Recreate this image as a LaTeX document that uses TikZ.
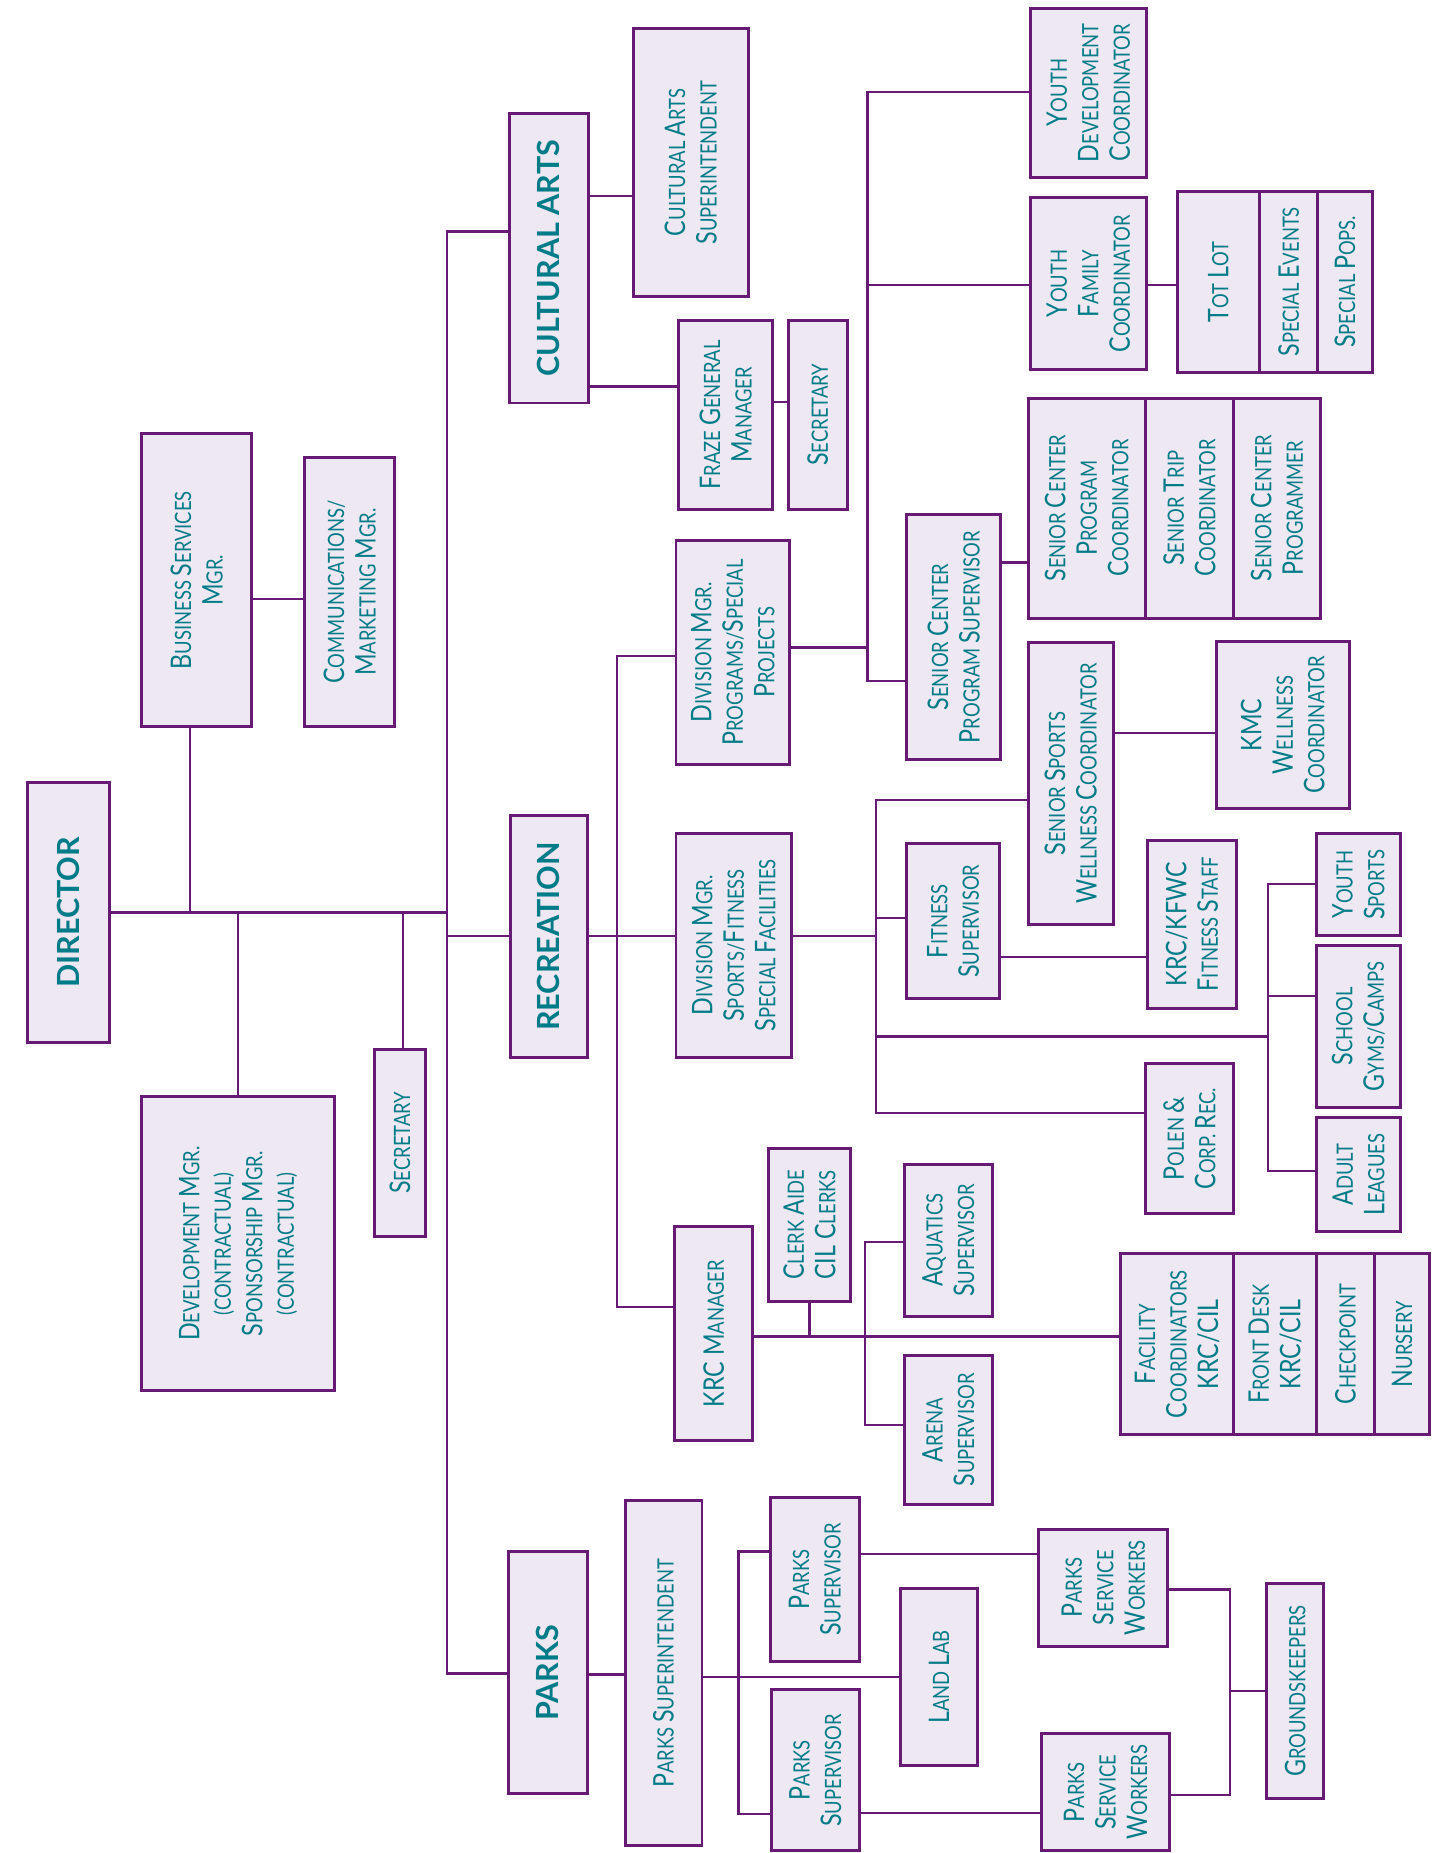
\documentclass[tikz,border=0pt]{standalone}
\usepackage{fontspec}
\setmainfont{Lato}[FakeStretch=0.82]
\newfontfamily\hdfont{Lato}
\usepackage{tikz}
\usetikzlibrary{fit}

\definecolor{orgline}{RGB}{102,26,116}
\definecolor{orgfill}{RGB}{238,232,242}
\definecolor{orgtext}{RGB}{0,124,136}

% big initial of a small-caps word
\newcommand\B[1]{{\fontsize{14.4}{16}\selectfont #1}}
% horizontal link between two boxes at a given height
\newcommand\hl[3]{\draw[link] (#1.east |- 0,#3) -- (#2.west |- 0,#3);}

\begin{document}
\begin{tikzpicture}[x=0.6pt,y=-0.6pt]
		\tikzstyle{orgbox}=[rectangle,draw=orgline,fill=orgfill,line width=1.5pt,inner sep=0pt];
		\tikzstyle{orgtxt}=[rotate=90,align=center,inner sep=0pt,text=orgtext,
			font=\fontsize{11.4}{16}\selectfont];
		\tikzstyle{headtxt}=[orgtxt,font=\hdfont\fontsize{15.5}{17}\selectfont\bfseries];
		\tikzstyle{link}=[draw=orgline,line width=1.2pt];
		\path[use as bounding box,fill=white](0,0)rectangle(1225,1568);

		% director and staff
		\node[orgbox,fit={(23,662)(93,882)},label={[headtxt]center:DIRECTOR}](dir){};
		\node[orgbox,fit={(120,367)(213,615)},label={[orgtxt]center:{\B{B}USINESS \B{S}ERVICES\\\B{M}GR.}}](bsm){};
		\node[orgbox,fit={(258,387)(334,615)},label={[orgtxt]center:{\B{C}OMMUNICATIONS/\\\B{M}ARKETING \B{M}GR.}}](cmm){};
		\node[orgbox,fit={(120,928)(283,1177)},label={[orgtxt]center:{\B{D}EVELOPMENT \B{M}GR.\\(CONTRACTUAL)\\\B{S}PONSORSHIP \B{M}GR.\\(CONTRACTUAL)}}](dev){};
		\node[orgbox,fit={(317,888)(360,1046)},label={[orgtxt]center:{\B{S}ECRETARY}}](sec1){};
		\coordinate(spT)at(378,196);
		\coordinate(spB)at(378,1416);
		\coordinate(jb)at(161,772);

		% cultural arts
		\node[orgbox,fit={(431,96)(498,341)},label={[headtxt]center:CULTURAL ARTS}](ca){};
		\node[orgbox,fit={(536,24)(633,251)},label={[orgtxt]center:{\B{C}ULTURAL \B{A}RTS\\\B{S}UPERINTENDENT}}](cas){};
		\node[orgbox,fit={(574,271)(654,431)},label={[orgtxt]center:{\B{F}RAZE \B{G}ENERAL\\\B{M}ANAGER}}](fgm){};
		\node[orgbox,fit={(667,271)(717,431)},label={[orgtxt]center:{\B{S}ECRETARY}}](sec2){};

		% recreation
		\node[orgbox,fit={(432,690)(497,895)},label={[headtxt]center:RECREATION}](rec){};
		\node[orgbox,fit={(572,457)(668,647)},label={[orgtxt]center:{\B{D}IVISION \B{M}GR.\\\B{P}ROGRAMS/\B{S}PECIAL\\\B{P}ROJECTS}}](dmp){};
		\node[orgbox,fit={(572,705)(670,895)},label={[orgtxt]center:{\B{D}IVISION \B{M}GR.\\\B{S}PORTS/\B{F}ITNESS\\\B{S}PECIAL \B{F}ACILITIES}}](dms){};
		\node[orgbox,fit={(571,1038)(637,1219)},label={[orgtxt]center:{\B{KRC M}ANAGER}}](krc){};

		\node[orgbox,fit={(872,7)(970,150)},label={[orgtxt]center:{\B{Y}OUTH\\\B{D}EVELOPMENT\\\B{C}OORDINATOR}}](ydc){};
		\node[orgbox,fit={(872,167)(970,313)},label={[orgtxt]center:{\B{Y}OUTH\\\B{F}AMILY\\\B{C}OORDINATOR}}](yfc){};
		\node[orgbox,fit={(996,162)(1066,315)},label={[orgtxt]center:{\B{T}OT \B{L}OT}}](tot){};
		\node[orgbox,fit={(1066,162)(1115,315)},label={[orgtxt]center:{\B{S}PECIAL \B{E}VENTS}}](spe){};
		\node[orgbox,fit={(1115,162)(1161,315)},label={[orgtxt]center:{\B{S}PECIAL \B{P}OPS.}}](spp){};
		\node[orgbox,fit={(767,435)(847,643)},label={[orgtxt]center:{\B{S}ENIOR \B{C}ENTER\\\B{P}ROGRAM \B{S}UPERVISOR}}](scs){};
		\node[orgbox,fit={(870,337)(969,523)},label={[orgtxt]center:{\B{S}ENIOR \B{C}ENTER\\\B{P}ROGRAM\\\B{C}OORDINATOR}}](scc){};
		\node[orgbox,fit={(969,337)(1044,523)},label={[orgtxt]center:{\B{S}ENIOR \B{T}RIP\\\B{C}OORDINATOR}}](stc){};
		\node[orgbox,fit={(1044,337)(1117,523)},label={[orgtxt]center:{\B{S}ENIOR \B{C}ENTER\\\B{P}ROGRAMMER}}](scp){};

		\node[orgbox,fit={(870,544)(942,782)},label={[orgtxt]center:{\B{S}ENIOR \B{S}PORTS\\\B{W}ELLNESS \B{C}OORDINATOR}}](ssw){};
		\node[orgbox,fit={(1029,543)(1142,684)},label={[orgtxt]center:{\B{KMC}\\\B{W}ELLNESS\\\B{C}OORDINATOR}}](kmc){};
		\node[orgbox,fit={(767,714)(846,845)},label={[orgtxt]center:{\B{F}ITNESS\\\B{S}UPERVISOR}}](fit){};
		\node[orgbox,fit={(971,711)(1046,853)},label={[orgtxt]center:{\B{KRC/KFWC}\\\B{F}ITNESS \B{S}TAFF}}](kfs){};
		\node[orgbox,fit={(1114,705)(1185,792)},label={[orgtxt]center:{\B{Y}OUTH\\\B{S}PORTS}}](ysp){};
		\node[orgbox,fit={(1114,800)(1185,937)},label={[orgtxt]center:{\B{S}CHOOL\\\B{G}YMS/\B{C}AMPS}}](sgc){};
		\node[orgbox,fit={(1114,946)(1185,1042)},label={[orgtxt]center:{\B{A}DULT\\\B{L}EAGUES}}](adl){};
		\node[orgbox,fit={(969,900)(1044,1027)},label={[orgtxt]center:{\B{P}OLEN \B{\&}\\\B{C}ORP. \B{R}EC.}}](pol){};

		\node[orgbox,fit={(650,972)(720,1101)},label={[orgtxt]center:{\B{C}LERK \B{A}IDE\\\B{CIL C}LERKS}}](cac){};
		\node[orgbox,fit={(765,985)(840,1114)},label={[orgtxt]center:{\B{A}QUATICS\\\B{S}UPERVISOR}}](aqs){};
		\node[orgbox,fit={(765,1147)(840,1273)},label={[orgtxt]center:{\B{A}RENA\\\B{S}UPERVISOR}}](ars){};
		\node[orgbox,fit={(948,1061)(1044,1214)},label={[orgtxt]center:{\B{F}ACILITY\\\B{C}OORDINATORS\\\B{KRC/CIL}}}](fac){};
		\node[orgbox,fit={(1044,1061)(1114,1214)},label={[orgtxt]center:{\B{F}RONT \B{D}ESK\\\B{KRC/CIL}}}](frd){};
		\node[orgbox,fit={(1114,1061)(1163,1214)},label={[orgtxt]center:{\B{C}HECKPOINT}}](chk){};
		\node[orgbox,fit={(1163,1061)(1210,1214)},label={[orgtxt]center:{\B{N}URSERY}}](nur){};

		% parks
		\node[orgbox,fit={(430,1313)(497,1518)},label={[headtxt]center:PARKS}](parks){};
		\node[orgbox,fit={(529,1270)(594,1562)},label={[orgtxt]center:{\B{P}ARKS \B{S}UPERINTENDENT}}](psu){};
		\node[orgbox,fit={(652,1267)(727,1406)},label={[orgtxt]center:{\B{P}ARKS\\\B{S}UPERVISOR}}](ps1){};
		\node[orgbox,fit={(653,1430)(727,1566)},label={[orgtxt]center:{\B{P}ARKS\\\B{S}UPERVISOR}}](ps2){};
		\node[orgbox,fit={(762,1344)(827,1494)},label={[orgtxt]center:{\B{L}AND \B{L}AB}}](ll){};
		\node[orgbox,fit={(879,1294)(988,1393)},label={[orgtxt]center:{\B{P}ARKS\\\B{S}ERVICE\\\B{W}ORKERS}}](pw1){};
		\node[orgbox,fit={(881,1467)(990,1566)},label={[orgtxt]center:{\B{P}ARKS\\\B{S}ERVICE\\\B{W}ORKERS}}](pw2){};
		\node[orgbox,fit={(1072,1340)(1120,1522)},label={[orgtxt]center:{\B{G}ROUNDSKEEPERS}}](gk){};

		% links
		\draw[link](dir.east)--(dir.east-|spT);
		\draw[link](ca.west|-spT)--(spT)--(spB)--(parks.west|-spB);
		\draw[link](jb)--(jb|-bsm.south);
		\hl{bsm}{cmm}{507}
		\draw[link](dev.north)--(dev.north|-dir.east);
		\draw[link]([xshift=1.5pt]sec1.north)--([xshift=1.5pt]sec1.north|-dir.east);
		\draw[link](spT|-0,792)--(rec.west|-0,792);

		\hl{ca}{cas}{166}
		\hl{ca}{fgm}{327}
		\hl{fgm}{sec2}{340}

		\hl{rec}{dms}{792}
		\draw[link](dmp.west|-0,555)--(522,555)|-(krc.west|-0,1106);
		\draw[link](dmp.east|-0,548)--(734,548);
		\draw[link](ydc.west|-0,78)-|(734,576)--(scs.west|-0,576);
		\draw[link](734,241)--(yfc.west|-0,241);
		\hl{yfc}{tot}{241}
		\hl{scs}{scc}{476}

		\draw[link](dms.east|-0,792)--(741,792);
		\draw[link](ssw.west|-0,677)-|(741,942)--(pol.west|-0,942);
		\draw[link](741,777)--(fit.west|-0,777);
		\hl{ssw}{kmc}{620}
		\hl{fit}{kfs}{810}
		\draw[link](741,877)--(1073,877);
		\draw[link](ysp.west|-0,748)-|(1073,991)--(adl.west|-0,991);
		\draw[link](1073,843)--(sgc.west|-0,843);

		\hl{krc}{fac}{1131}
		\draw[link](cac.south)--(cac.south|-0,1131);
		\draw[link](aqs.west|-0,1051)-|(732,1206)--(ars.west|-0,1206);

		\hl{parks}{psu}{1417}
		\hl{psu}{ll}{1419}
		\draw[link](ps1.west|-0,1313)-|(625,1535)--(ps2.west|-0,1535);
		\hl{ps1}{pw1}{1315}
		\hl{ps2}{pw2}{1534}
		\draw[link](pw1.east|-0,1345)-|(1041,1519)--(pw2.east|-0,1519);
		\draw[link](1041,1431)--(gk.west|-0,1431);
	\end{tikzpicture}
\end{document}
